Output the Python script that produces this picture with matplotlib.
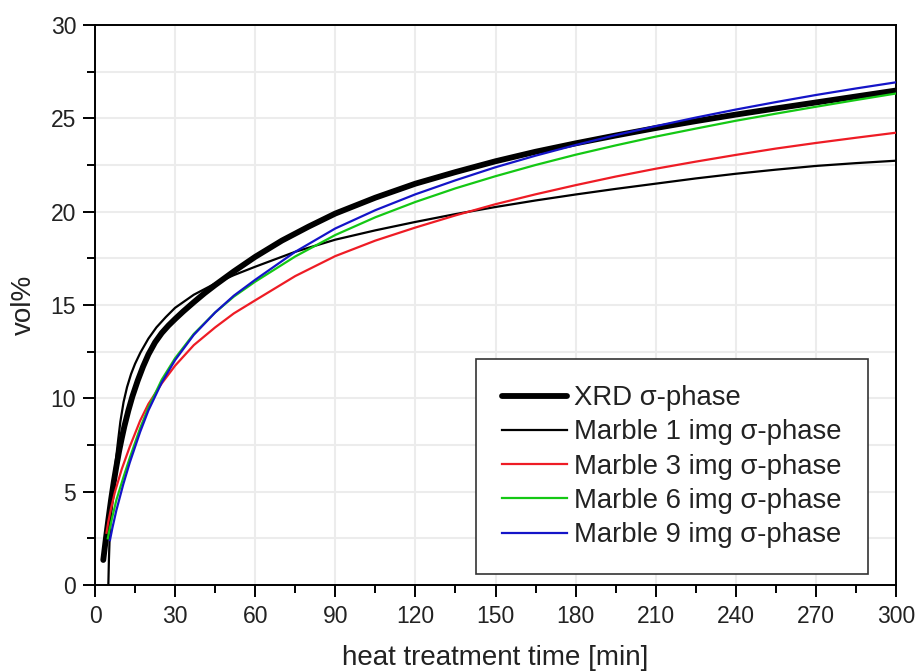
import matplotlib
matplotlib.use("Agg")
import matplotlib.pyplot as plt
from matplotlib.ticker import MultipleLocator

plt.rcParams['font.family'] = ['Liberation Sans', 'DejaVu Sans']

# ---- data ----
xrd_x = [3.1, 4, 5, 6, 7, 8, 9, 10, 11, 12.5, 14, 16, 18, 20, 22.5, 25, 27.5, 30, 33, 37, 41, 45, 52, 60,
         70, 80, 90, 105, 120, 135, 150, 165, 180, 195, 210, 225, 240, 255, 270, 285, 300]
xrd_y = [1.34, 2.4, 3.5, 4.55, 5.5, 6.35, 7.15, 7.85, 8.5, 9.35, 10.1, 10.95, 11.7, 12.35, 13.0, 13.5, 13.9,
         14.25, 14.65, 15.15, 15.63, 16.07, 16.8, 17.58, 18.45, 19.2, 19.9, 20.75, 21.5, 22.12, 22.7, 23.21,
         23.66, 24.08, 24.48, 24.85, 25.2, 25.53, 25.85, 26.17, 26.49]

m1_x = [5.0, 5.2, 5.5, 6.0, 6.6, 7.5, 8.7, 9.5, 10.7, 12, 13.5, 15, 17, 20, 23, 26.5, 30, 37, 45, 52, 60,
        75, 90, 105, 120, 135, 150, 165, 180, 195, 210, 225, 240, 255, 270, 285, 300]
m1_y = [0.0, 1.3, 2.6, 3.9, 5.0, 6.3, 7.8, 8.75, 9.8, 10.6, 11.3, 11.85, 12.45, 13.2, 13.8, 14.35, 14.85,
        15.55, 16.15, 16.6, 17.05, 17.85, 18.5, 19.0, 19.45, 19.87, 20.25, 20.6, 20.92, 21.22, 21.5, 21.78,
        22.03, 22.25, 22.45, 22.6, 22.73]

m3_x = [4.3, 5, 6, 7.5, 10, 13, 16.9, 20, 25, 30, 37, 45, 52, 60, 75, 90, 105, 120, 135, 150, 165, 180,
        195, 210, 225, 240, 255, 270, 285, 300]
m3_y = [2.8, 3.4, 4.1, 5.0, 6.2, 7.4, 8.8, 9.7, 10.8, 11.75, 12.85, 13.8, 14.55, 15.25, 16.55, 17.62, 18.45,
        19.15, 19.8, 20.4, 20.93, 21.42, 21.88, 22.3, 22.68, 23.04, 23.38, 23.68, 23.96, 24.23]

m6_x = [4.8, 5.5, 6.5, 8, 10.6, 13, 16.9, 20, 25, 30, 37, 45, 52, 60, 75, 90, 105, 120, 135, 150, 165, 180,
        195, 210, 225, 240, 255, 270, 285, 300]
m6_y = [2.5, 3.0, 3.65, 4.55, 5.75, 6.8, 8.4, 9.5, 11.0, 12.15, 13.45, 14.6, 15.45, 16.25, 17.6, 18.75, 19.7,
        20.52, 21.25, 21.9, 22.5, 23.05, 23.55, 24.02, 24.45, 24.87, 25.25, 25.62, 25.98, 26.33]

m9_x = [5.6, 6.5, 8, 10.6, 13, 16.9, 20, 25, 30, 37, 45, 52, 60, 75, 90, 105, 120, 135, 150, 165, 180,
        195, 210, 225, 240, 255, 270, 285, 300]
m9_y = [2.4, 3.05, 4.0, 5.4, 6.55, 8.2, 9.35, 10.85, 12.05, 13.4, 14.6, 15.5, 16.35, 17.85, 19.1, 20.08,
        20.93, 21.68, 22.38, 23.0, 23.57, 24.1, 24.58, 25.04, 25.47, 25.87, 26.25, 26.6, 26.93]

labels = ["XRD \u03c3-phase", "Marble 1 img \u03c3-phase", "Marble 3 img \u03c3-phase",
          "Marble 6 img \u03c3-phase", "Marble 9 img \u03c3-phase"]

W, H = 917, 671
fig = plt.figure(figsize=(W / 100, H / 100), dpi=100)
ax = fig.add_axes([95 / W, 1 - 585 / H, (896 - 95) / W, (585 - 25) / H])

ax.plot(xrd_x, xrd_y, color='black', lw=4.2, solid_capstyle='round', solid_joinstyle='round',
        label=labels[0], zorder=3)
ax.plot(m1_x, m1_y, color='black', lw=1.6, label=labels[1], zorder=4)
ax.plot(m3_x, m3_y, color='#ee1c25', lw=1.6, label=labels[2], zorder=4)
ax.plot(m6_x, m6_y, color='#14c814', lw=1.6, label=labels[3], zorder=4)
ax.plot(m9_x, m9_y, color='#1414c8', lw=1.6, label=labels[4], zorder=5)

ax.set_xlim(0, 300)
ax.set_ylim(0, 30)
ax.xaxis.set_major_locator(MultipleLocator(30))
ax.xaxis.set_minor_locator(MultipleLocator(15))
ax.yaxis.set_major_locator(MultipleLocator(5))
ax.yaxis.set_minor_locator(MultipleLocator(2.5))

ax.grid(True, which='major', axis='x', color='#ececec', lw=1.5, zorder=0)
ax.grid(True, which='both', axis='y', color='#ececec', lw=1.5, zorder=0)
ax.set_axisbelow(True)

ax.tick_params(which='major', direction='out', length=8.5, width=1.4, labelsize=16.5,
               top=False, right=False, colors='black', labelcolor='#222222', pad=5)
ax.tick_params(which='minor', direction='out', length=5.5, width=1.4, top=False, right=False)
ax.tick_params(axis='x', which='major', pad=6)
for s in ax.spines.values():
    s.set_linewidth(1.4)
    s.set_color('black')

ax.set_xlabel("heat treatment time [min]", fontsize=20, labelpad=12, color='#222222')
ax.set_ylabel("vol%", fontsize=20, labelpad=10, color='#222222')

leg = ax.legend(loc='upper left', bbox_to_anchor=(476 / W, 1 - 359 / H),
                bbox_transform=fig.transFigure, fontsize=19.8, frameon=True,
                fancybox=False, shadow=False, framealpha=1, edgecolor='#333333',
                borderpad=0.95, handlelength=2.36, handletextpad=0.25, labelspacing=0.3,
                borderaxespad=0)
leg.get_frame().set_linewidth(1.2)
for t in leg.get_texts():
    t.set_color('#222222')

fig.savefig("out.png", dpi=100)
